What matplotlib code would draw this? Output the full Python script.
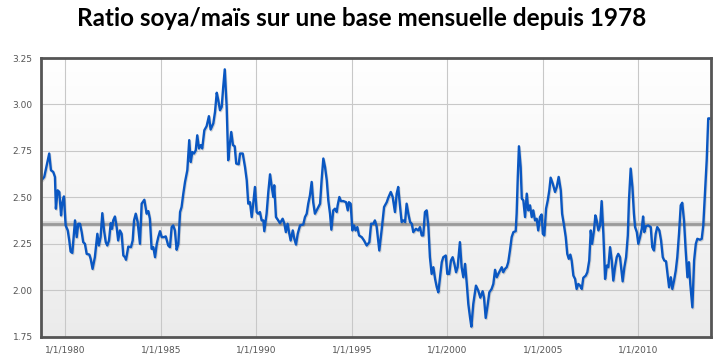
import matplotlib
matplotlib.use("Agg")
import matplotlib.pyplot as plt
import matplotlib.patheffects as pe
from matplotlib.colors import LinearSegmentedColormap
import numpy as np

title = "Ratio soya/maïs sur une base mensuelle depuis 1978"

years = [
1978.78,1978.90,1979.03,1979.16,1979.25,1979.37,1979.46,1979.51,1979.60,1979.69,1979.78,1979.84,1979.93,
1980.02,1980.13,1980.21,1980.28,1980.37,1980.51,1980.60,1980.68,1980.77,1980.86,1980.94,
1981.03,1981.12,1981.26,1981.33,1981.43,1981.55,1981.68,1981.76,1981.85,1981.94,
1982.03,1982.12,1982.20,1982.29,1982.38,1982.45,1982.51,1982.60,1982.69,1982.77,1982.86,1982.95,
1983.04,1983.13,1983.18,1983.30,1983.44,1983.53,1983.60,1983.69,1983.79,1983.91,
1984.00,1984.14,1984.26,1984.35,1984.43,1984.52,1984.61,1984.70,1984.79,1984.87,1984.96,
1985.05,1985.17,1985.26,1985.39,1985.48,1985.57,1985.65,1985.74,1985.83,1985.92,
1986.01,1986.09,1986.18,1986.27,1986.39,1986.49,1986.57,1986.65,1986.74,1986.83,1986.91,
1987.00,1987.09,1987.17,1987.28,1987.40,1987.52,1987.61,1987.75,1987.84,1987.93,
1988.01,1988.10,1988.19,1988.27,1988.35,1988.45,1988.53,1988.62,1988.69,1988.78,1988.87,1988.95,
1989.08,1989.15,1989.29,1989.41,1989.50,1989.58,1989.67,1989.76,1989.84,1989.93,
1990.02,1990.10,1990.19,1990.28,1990.37,1990.42,1990.54,1990.63,1990.72,1990.81,1990.89,1990.94,
1991.03,1991.15,1991.24,1991.38,1991.47,1991.55,1991.64,1991.73,1991.80,1991.91,1991.99,
1992.08,1992.17,1992.29,1992.46,1992.55,1992.64,1992.72,1992.81,1992.90,1992.98,
1993.07,1993.16,1993.25,1993.34,1993.42,1993.51,1993.60,1993.69,1993.77,1993.86,1993.93,
1994.03,1994.12,1994.21,1994.26,1994.35,1994.43,1994.56,1994.70,1994.79,1994.85,1994.94,
1995.03,1995.12,1995.20,1995.29,1995.38,1995.52,1995.64,1995.78,1995.92,
1996.01,1996.13,1996.21,1996.30,1996.44,1996.57,1996.69,1996.83,1996.91,
1997.04,1997.14,1997.26,1997.35,1997.43,1997.52,1997.61,1997.70,1997.79,1997.87,1997.96,
1998.05,1998.14,1998.22,1998.36,1998.48,1998.57,1998.66,1998.74,1998.83,1998.92,
1999.01,1999.09,1999.18,1999.27,1999.36,1999.45,1999.53,1999.62,1999.71,1999.79,1999.92,
2000.00,2000.10,2000.19,2000.28,2000.37,2000.46,2000.54,2000.66,2000.75,2000.84,2000.93,
2001.02,2001.10,2001.19,2001.26,2001.36,2001.50,2001.62,2001.73,2001.85,2001.92,
2002.01,2002.12,2002.20,2002.32,2002.41,2002.50,2002.59,2002.67,2002.76,2002.85,2002.93,
2003.02,2003.11,2003.19,2003.28,2003.37,2003.46,2003.58,2003.63,2003.69,2003.75,2003.84,2003.90,2003.98,
2004.07,2004.16,2004.24,2004.33,2004.42,2004.50,2004.59,2004.68,2004.76,2004.85,2004.94,
2005.00,2005.08,2005.17,2005.26,2005.34,2005.41,2005.52,2005.64,2005.73,2005.83,2005.94,
2006.01,2006.11,2006.20,2006.28,2006.36,2006.44,2006.51,2006.60,2006.69,2006.77,2006.86,2006.95,
2007.04,2007.12,2007.25,2007.33,2007.43,2007.51,2007.58,2007.68,2007.75,2007.82,2007.91,
2008.00,2008.08,2008.17,2008.26,2008.35,2008.43,2008.52,2008.61,2008.69,2008.78,2008.87,2008.95,
2009.04,2009.18,2009.27,2009.36,2009.45,2009.51,2009.60,2009.69,2009.77,2009.83,2009.92,
2010.00,2010.09,2010.18,2010.25,2010.31,2010.40,2010.52,2010.65,2010.73,2010.82,2010.91,2010.99,
2011.10,2011.19,2011.28,2011.36,2011.45,2011.54,2011.61,2011.70,2011.78,2011.87,2011.96,
2012.04,2012.13,2012.22,2012.30,2012.39,2012.48,2012.57,2012.65,2012.72,2012.83,2012.92,
2013.01,2013.09,2013.23,2013.32,2013.40,2013.49,2013.58,2013.66,2013.72,
]

ratio = [
2.595,2.61,2.673,2.736,2.646,2.637,2.61,2.439,2.538,2.529,2.403,2.466,2.505,
2.349,2.322,2.268,2.208,2.201,2.376,2.286,2.358,2.358,2.313,2.259,
2.25,2.196,2.192,2.169,2.115,2.178,2.304,2.241,2.286,2.415,
2.322,2.259,2.241,2.268,2.361,2.331,2.376,2.397,2.34,2.268,2.322,2.304,
2.187,2.178,2.164,2.235,2.232,2.268,2.376,2.412,2.367,2.25,
2.466,2.487,2.412,2.426,2.385,2.223,2.232,2.178,2.25,2.286,2.318,
2.286,2.286,2.29,2.241,2.232,2.34,2.349,2.322,2.218,2.25,
2.421,2.448,2.52,2.583,2.646,2.808,2.69,2.744,2.736,2.753,2.834,
2.763,2.781,2.763,2.861,2.883,2.937,2.865,2.898,2.96,3.063,
3.023,2.969,2.987,3.095,3.189,2.987,2.70,2.79,2.852,2.781,2.775,2.682,
2.678,2.736,2.736,2.663,2.592,2.466,2.474,2.394,2.466,2.556,
2.421,2.412,2.421,2.376,2.376,2.318,2.412,2.529,2.624,2.556,2.502,2.565,
2.394,2.376,2.361,2.385,2.358,2.313,2.358,2.304,2.268,2.322,2.277,
2.246,2.304,2.349,2.354,2.394,2.412,2.466,2.511,2.583,2.474,
2.412,2.43,2.448,2.466,2.592,2.709,2.663,2.592,2.484,2.412,2.326,
2.43,2.439,2.421,2.457,2.502,2.48,2.48,2.474,2.43,2.474,2.466,
2.322,2.349,2.322,2.34,2.295,2.286,2.268,2.241,2.259,
2.358,2.358,2.376,2.343,2.214,2.331,2.448,2.474,2.498,
2.529,2.502,2.421,2.52,2.556,2.457,2.367,2.376,2.367,2.466,2.412,
2.367,2.358,2.313,2.331,2.322,2.34,2.295,2.295,2.421,2.43,
2.34,2.178,2.088,2.124,2.061,2.016,1.989,2.07,2.151,2.178,2.187,
2.088,2.088,2.16,2.178,2.142,2.097,2.124,2.259,2.124,2.07,2.142,
2.034,1.926,1.854,1.804,1.926,2.025,1.998,1.96,1.995,1.962,
1.851,1.926,1.989,2.007,2.034,2.11,2.07,2.088,2.106,2.124,2.097,
2.115,2.124,2.151,2.214,2.286,2.313,2.318,2.412,2.61,2.775,2.663,2.493,2.484,
2.394,2.52,2.43,2.457,2.394,2.43,2.376,2.385,2.322,2.394,2.408,
2.304,2.295,2.439,2.484,2.538,2.606,2.574,2.529,2.556,2.61,2.538,
2.412,2.349,2.286,2.196,2.169,2.192,2.16,2.079,2.061,2.007,2.034,2.025,
2.007,2.067,2.079,2.097,2.16,2.322,2.25,2.322,2.403,2.376,2.322,
2.349,2.48,2.304,2.061,2.133,2.124,2.232,2.16,2.052,2.124,2.178,2.196,
2.178,2.048,2.124,2.178,2.295,2.484,2.655,2.556,2.412,2.34,2.313,
2.25,2.286,2.331,2.397,2.313,2.345,2.349,2.34,2.232,2.214,2.304,2.34,
2.322,2.268,2.178,2.16,2.156,2.079,2.016,2.07,2.007,2.052,2.106,
2.178,2.304,2.457,2.471,2.376,2.214,2.07,2.151,2.034,1.908,2.16,
2.25,2.277,2.272,2.277,2.349,2.52,2.70,2.925,2.925,
]

average_ratio = 2.355
y_ticks = [1.75, 2.00, 2.25, 2.50, 2.75, 3.00, 3.25]
y_tick_labels = ["1.75", "2.00", "2.25", "2.50", "2.75", "3.00", "3.25"]
x_ticks = [1980, 1985, 1990, 1995, 2000, 2005, 2010]
x_tick_labels = ["1/1/1980", "1/1/1985", "1/1/1990", "1/1/1995", "1/1/2000", "1/1/2005", "1/1/2010"]

fig = plt.figure(figsize=(7.23, 3.61), dpi=100)
fig.patch.set_facecolor("white")
ax = fig.add_axes([0.0567, 0.0673, 0.9263, 0.772])

# gradient background
grad = np.linspace(1.0, 0.0, 256).reshape(-1, 1)
cmap = LinearSegmentedColormap.from_list("bg", ["#ebebeb", "#ffffff"])
ax.imshow(grad, cmap=cmap, aspect="auto", extent=[0, 1, 0, 1],
          transform=ax.transAxes, zorder=0, origin="upper", vmin=0, vmax=1)

ax.set_xlim(1978.73, 2013.79)
ax.set_ylim(1.75, 3.25)

ax.set_yticks(y_ticks)
ax.set_yticklabels(y_tick_labels)
ax.set_xticks(x_ticks)
ax.set_xticklabels(x_tick_labels)
ax.tick_params(axis="both", length=0, labelsize=6.5, labelcolor="#555555")
ax.tick_params(axis="y", pad=6)
ax.tick_params(axis="x", pad=6)
ax.grid(True, color="#c8c8c8", linewidth=0.8, zorder=1)
ax.set_axisbelow(True)

# average line
ax.axhline(average_ratio, color="#d8d8d8", linewidth=4.0, zorder=2)
ax.axhline(average_ratio, color="#9a9a9a", linewidth=2.0, zorder=2)

ax.plot(years, ratio, color="#0a57c2", linewidth=1.7, zorder=3,
        solid_joinstyle="round",
        path_effects=[pe.SimpleLineShadow(offset=(0.6, -0.8), shadow_color="#000000", alpha=0.15),
                      pe.Normal()])

for s in ax.spines.values():
    s.set_color("#555555")
    s.set_linewidth(2.0)
    s.set_zorder(4)

fig.text(0.5, 0.948, title, ha="center", va="center", fontsize=17.5,
         fontweight="bold", family=["Lato", "DejaVu Sans"], color="#000000")

fig.savefig("out.png", dpi=100)
